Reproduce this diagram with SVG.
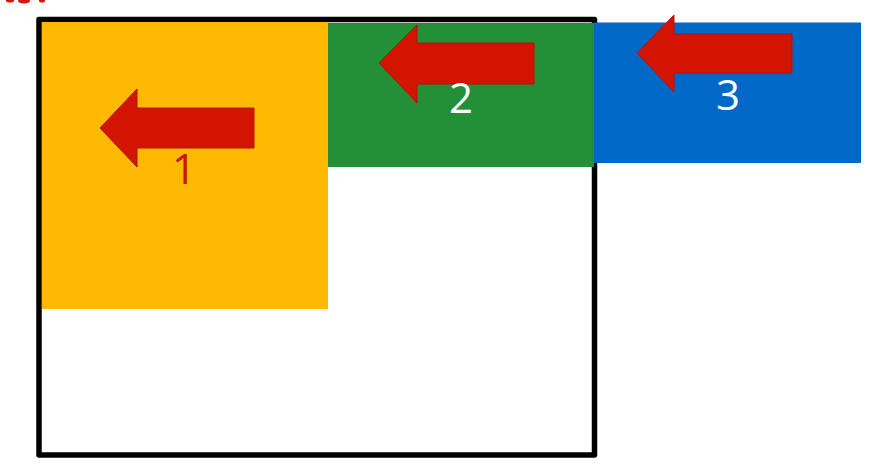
<svg xmlns="http://www.w3.org/2000/svg" width="880" height="475" viewBox="0 0 880 475">
  <style>
    .arrow { fill: #D21400; stroke: #B41208; stroke-width: 1; }
    .num { font-family: "Open Sans", "Noto Sans", sans-serif; font-size: 42px; text-anchor: middle; }
  </style>
  <rect x="0" y="0" width="880" height="475" fill="#FFFFFF"/>
  <g id="marks" fill="#D8140C">
    <ellipse cx="10" cy="0.5" rx="4" ry="2"/>
    <ellipse cx="24" cy="1" rx="6" ry="2.5"/>
    <ellipse cx="42" cy="0.5" rx="3" ry="2"/>
  </g>
  <g id="frame">
    <rect x="39" y="19.5" width="555.5" height="435.5" fill="none" stroke="#000000" stroke-width="5.5" stroke-linejoin="round"/>
  </g>
  <g id="node1">
    <rect x="42" y="22" width="286" height="287" fill="#FFB900"/>
    <polygon class="arrow" points="100,128 137,89 137,108 254,108 254,148 137,148 137,167"/>
    <text class="num" x="184" y="184" fill="#C8140C">1</text>
  </g>
  <g id="node2">
    <rect x="328" y="23" width="266" height="144" fill="#238F36"/>
    <polygon class="arrow" points="379,63 417,25 417,43 534,43 534,84 417,84 417,103"/>
    <text class="num" x="461" y="113" fill="#FFFFFF">2</text>
  </g>
  <g id="node3">
    <rect x="594" y="22.5" width="267" height="140.5" fill="#0068C6"/>
    <polygon class="arrow" points="637,53 674,15 674,34 792,34 792,73 674,73 674,92"/>
    <text class="num" x="728" y="110" fill="#FFFFFF">3</text>
  </g>
  <g id="connectors"/>
</svg>
